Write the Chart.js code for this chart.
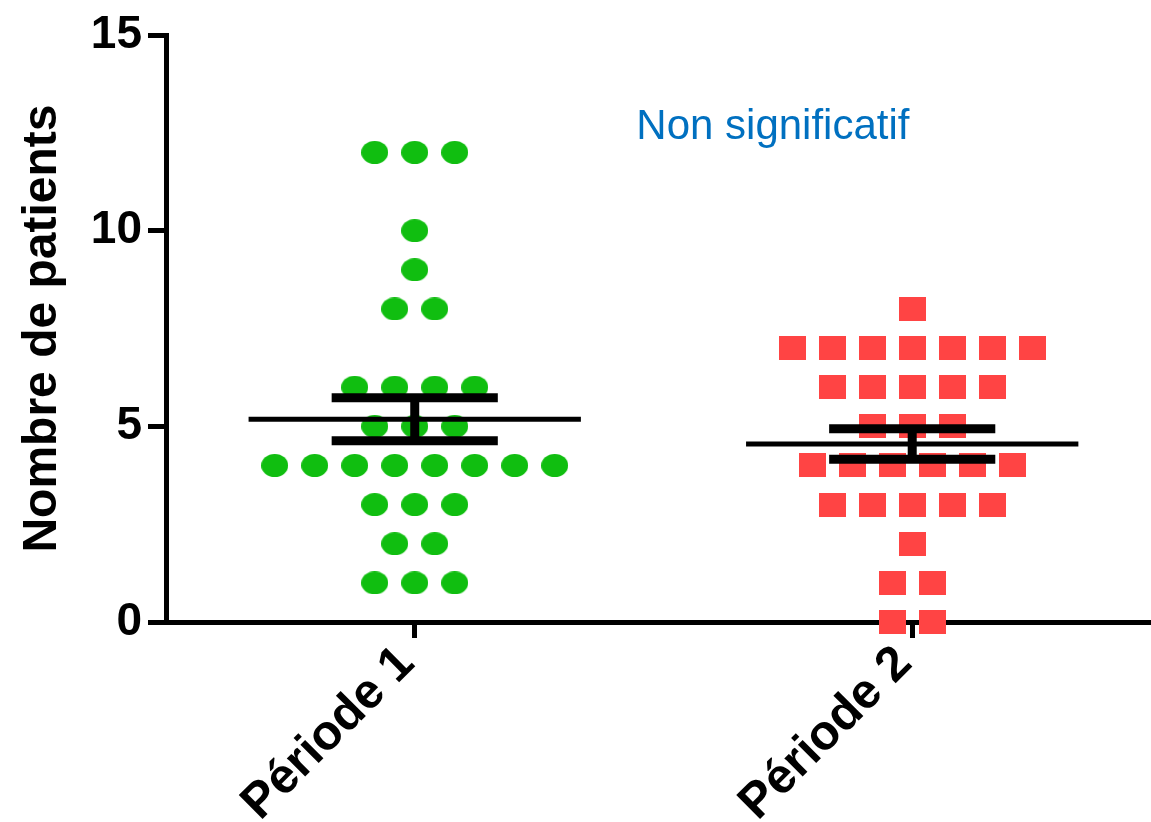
<!DOCTYPE html>
<html>
<head>
<meta charset="utf-8">
<title>Nombre de patients par période</title>
<script src="https://cdn.jsdelivr.net/npm/chart.js@4.4.0/dist/chart.umd.min.js"></script>
<style>
  html, body { margin: 0; padding: 0; background: #fff; overflow: hidden; }
  #wrap { position: relative; width: 1151px; height: 822px; }
  #scatterChart { display: block; }
</style>
</head>
<body>
<div id="wrap"><canvas id="scatterChart"></canvas></div>
<script>
// Data
const CATEGORIES = ["Période 1", "Période 2"];
const PERIOD1_VALUES = [12, 12, 12, 10, 9, 8, 8, 6, 6, 6, 6, 5, 5, 5, 4, 4, 4, 4, 4, 4, 4, 4, 3, 3, 3, 2, 2, 1, 1, 1];
const PERIOD2_VALUES = [8, 7, 7, 7, 7, 7, 7, 7, 6, 6, 6, 6, 6, 5, 5, 5, 4, 4, 4, 4, 4, 4, 3, 3, 3, 3, 3, 2, 1, 1, 0, 0];
const GROUP_MEANS = [5.18, 4.55];
const GROUP_SEMS = [0.55, 0.39];
const Y_TICKS = [0, 5, 10, 15];
const ANNOTATION = "Non significatif";

// Style constants
const COLORS = {
  period1: "#10BE10",
  period2: "#FF4444",
  axis: "#000000",
  annotation: "#0070C0",
};
const FONT_FAMILY = "'Liberation Sans', Arial, sans-serif";
const BOLD_FONT = { family: FONT_FAMILY, weight: "bold", size: 46 };
const POINT_STEP = 0.0804; // horizontal gap between equal values
const MEAN_HALF = 0.334;
const SEM_HALF = 0.167;

// Place equal values side by side, centred on the category
const spreadGroup = (values, center) => {
  const counts = {};
  values.forEach((v) => (counts[v] = (counts[v] || 0) + 1));
  const seen = {};
  return values.map((v) => {
    seen[v] = (seen[v] ?? -1) + 1;
    return { x: center + (seen[v] - (counts[v] - 1) / 2) * POINT_STEP, y: v };
  });
};

// Marker images (slightly flattened like the original)
const makeMarker = (w, h, color, shape) => {
  const c = document.createElement("canvas");
  c.width = w;
  c.height = h;
  const g = c.getContext("2d");
  g.fillStyle = color;
  if (shape === "ellipse") {
    g.beginPath();
    g.ellipse(w / 2, h / 2, w / 2, h / 2, 0, 0, Math.PI * 2);
    g.fill();
  } else {
    g.fillRect(0, 0, w, h);
  }
  return c;
};

const drawLine = (ctx, x1, y1, x2, y2, width) => {
  ctx.lineWidth = width;
  ctx.beginPath();
  ctx.moveTo(x1, y1);
  ctx.lineTo(x2, y2);
  ctx.stroke();
};

// Mean +/- SEM bars and the annotation
const errorBarPlugin = {
  id: "errorBars",
  afterDatasetsDraw(chart) {
    const { ctx, scales: { x, y } } = chart;
    ctx.save();
    ctx.strokeStyle = COLORS.axis;
    ctx.lineCap = "butt";
    GROUP_MEANS.forEach((mean, i) => {
      const c = i + 1;
      const hi = y.getPixelForValue(mean + GROUP_SEMS[i]);
      const lo = y.getPixelForValue(mean - GROUP_SEMS[i]);
      const my = y.getPixelForValue(mean);
      drawLine(ctx, x.getPixelForValue(c - MEAN_HALF), my, x.getPixelForValue(c + MEAN_HALF), my, 5);
      drawLine(ctx, x.getPixelForValue(c - SEM_HALF), hi, x.getPixelForValue(c + SEM_HALF), hi, 9);
      drawLine(ctx, x.getPixelForValue(c - SEM_HALF), lo, x.getPixelForValue(c + SEM_HALF), lo, 9);
      drawLine(ctx, x.getPixelForValue(c), hi, x.getPixelForValue(c), lo, 9);
    });
    ctx.fillStyle = COLORS.annotation;
    ctx.font = `42px ${FONT_FAMILY}`;
    ctx.textAlign = "center";
    ctx.textBaseline = "middle";
    ctx.fillText(ANNOTATION, x.getPixelForValue(1.72), y.getPixelForValue(12.65));
    ctx.restore();
  },
};

const initChart = () => {
  const ctx = document.getElementById("scatterChart").getContext("2d");

  new Chart(ctx, {
    type: "scatter",
    data: {
      datasets: [
        {
          label: CATEGORIES[0],
          data: spreadGroup(PERIOD1_VALUES, 1),
          pointStyle: makeMarker(27, 23, COLORS.period1, "ellipse"),
          pointRadius: 13,
          clip: false,
        },
        {
          label: CATEGORIES[1],
          data: spreadGroup(PERIOD2_VALUES, 2),
          pointStyle: makeMarker(27, 24, COLORS.period2, "rect"),
          pointRadius: 13,
          clip: false,
        },
      ],
    },
    options: {
      responsive: true,
      maintainAspectRatio: false,
      animation: false,
      layout: { autoPadding: false, padding: { top: 35, right: 0, left: 0, bottom: 0 } },
      plugins: {
        legend: { display: false },
        tooltip: { enabled: false },
      },
      scales: {
        x: {
          type: "linear",
          min: 0.5,
          max: 2.48,
          afterBuildTicks: (scale) => {
            scale.ticks = CATEGORIES.map((_, i) => ({ value: i + 1 }));
          },
          afterFit: (scale) => {
            scale.height = 200;
            scale.paddingLeft = 0;
            scale.paddingRight = 0;
          },
          ticks: {
            callback: (value) => CATEGORIES[value - 1],
            font: { ...BOLD_FONT, size: 49 },
            color: COLORS.axis,
            minRotation: 45,
            maxRotation: 45,
            padding: -3,
            labelOffset: -8,
          },
          grid: {
            drawOnChartArea: false,
            drawTicks: true,
            tickLength: 16,
            tickWidth: 5,
            tickColor: COLORS.axis,
          },
          border: { display: true, color: COLORS.axis, width: 5 },
        },
        y: {
          type: "linear",
          min: 0,
          max: 15,
          afterBuildTicks: (scale) => {
            scale.ticks = Y_TICKS.map((v) => ({ value: v }));
          },
          afterFit: (scale) => {
            scale.width = 166;
          },
          ticks: {
            font: BOLD_FONT,
            color: COLORS.axis,
            padding: 6,
          },
          grid: {
            drawOnChartArea: false,
            drawTicks: true,
            tickLength: 18,
            tickWidth: 5,
            tickColor: COLORS.axis,
          },
          border: { display: true, color: COLORS.axis, width: 5 },
          title: {
            display: true,
            text: "Nombre de patients",
            color: COLORS.axis,
            font: { ...BOLD_FONT, size: 48 },
            padding: { top: 14, bottom: 0 },
          },
        },
      },
    },
    plugins: [errorBarPlugin],
  });
};

initChart();
</script>
</body>
</html>
